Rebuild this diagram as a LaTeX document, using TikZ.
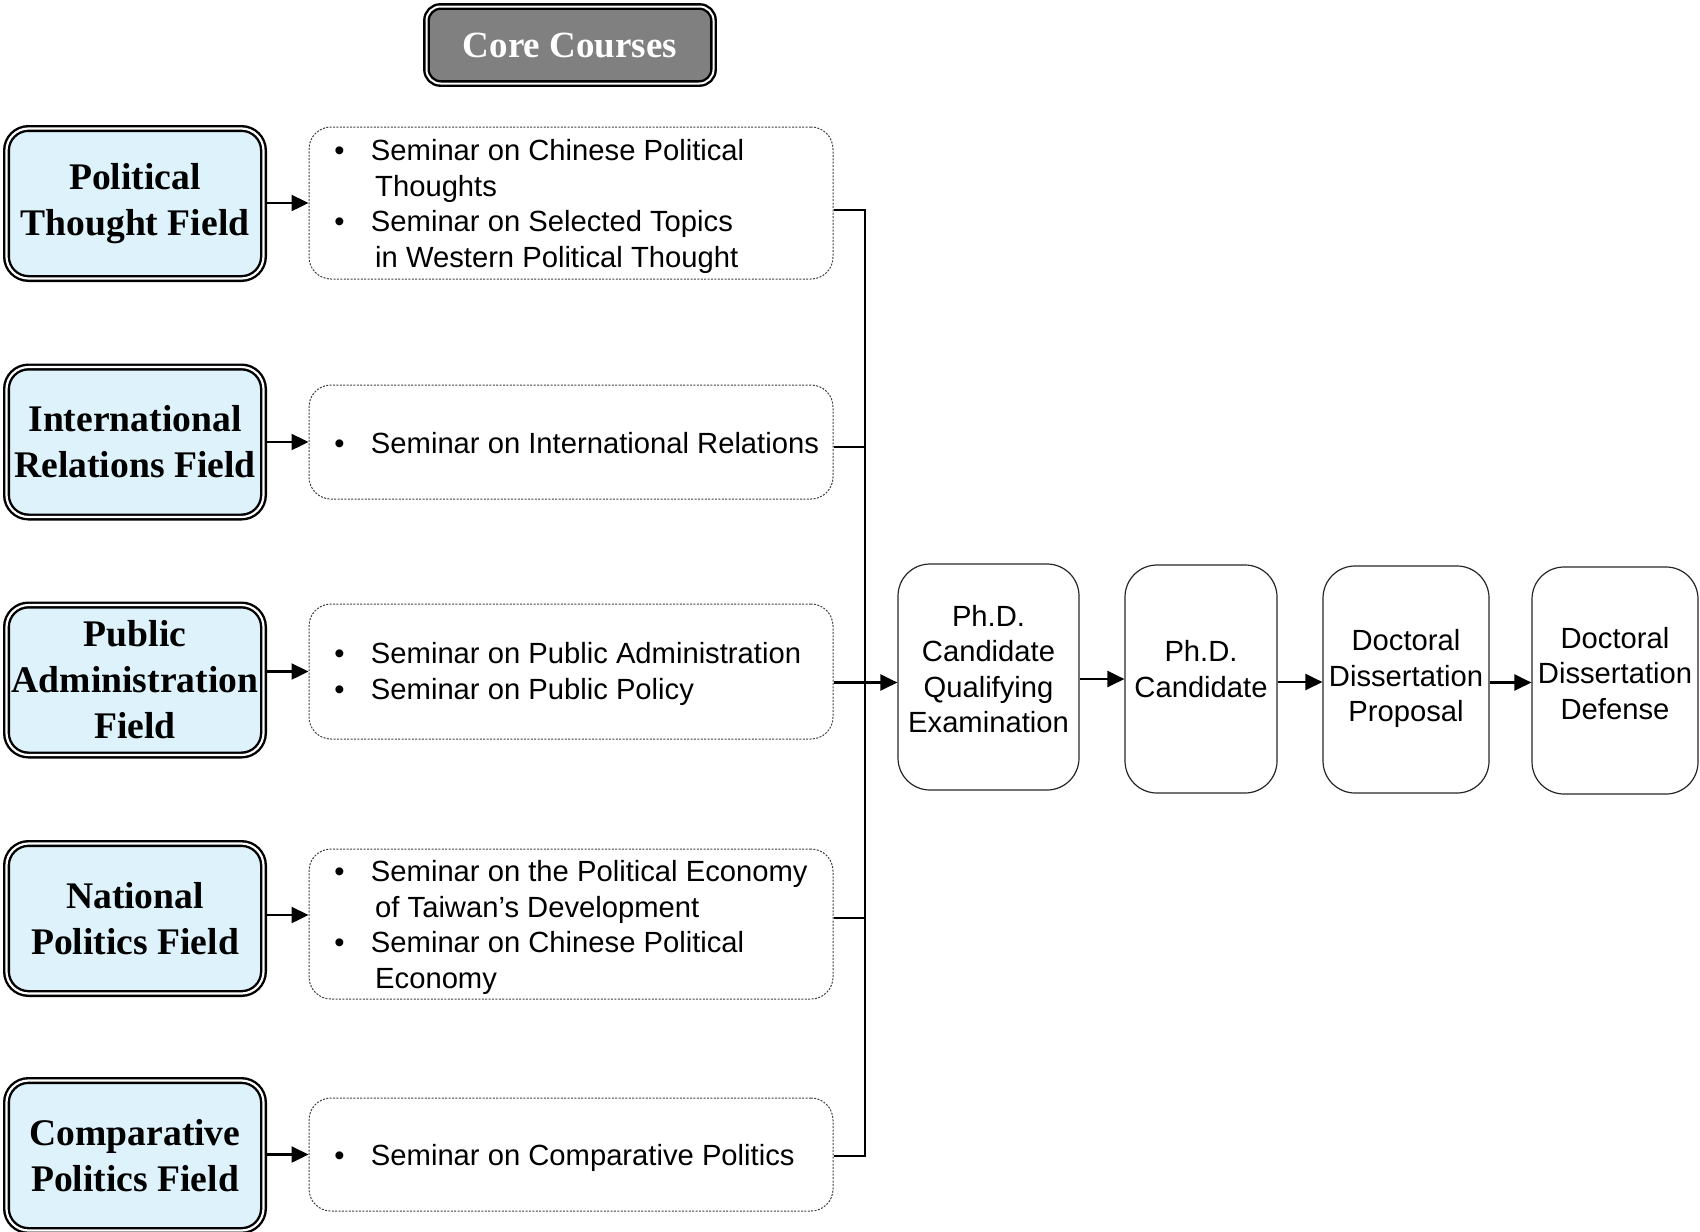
\documentclass[tikz,border=0pt]{standalone}
\usepackage{fontspec}
\setmainfont{Liberation Serif}
\newfontfamily\arialf{Liberation Sans}
\usetikzlibrary{arrows.meta,calc}
\definecolor{fieldblue}{RGB}{222,242,252}
\definecolor{coregray}{RGB}{128,128,128}
\tikzset{
  fieldbox/.style={draw=black, double=white, line width=1.2pt, double distance=1.1pt,
    rounded corners=11pt, fill=fieldblue, minimum width=128.5pt, minimum height=75pt,
    inner sep=0pt, align=center, font=\fontsize{18.8}{23}\selectfont\bfseries},
  corebox/.style={draw=black, double=white, line width=1.2pt, double distance=1pt,
    rounded corners=7pt, fill=coregray, minimum width=143.5pt, minimum height=38.5pt,
    inner sep=0pt, text=white, font=\fontsize{18.5}{22}\selectfont\bfseries},
  sembox/.style={draw=black!75, line width=0.5pt, dash pattern=on 1pt off 0.7pt,
    rounded corners=11pt, minimum width=262pt, inner sep=0pt},
  semtext/.style={inner sep=0pt, align=left, font=\arialf\fontsize{14.6}{17.7}\selectfont},
  procbox/.style={draw=black!85, line width=0.6pt, rounded corners=16pt, inner sep=0pt},
  proctext/.style={inner sep=0pt, align=center, font=\arialf\fontsize{14.6}{17.7}\selectfont},
  conn/.style={draw=black, line width=0.8pt},
  arr/.style={draw=black, line width=1.2pt, -{Triangle[length=8.5pt,width=8pt]}}
}
\newcommand{\bul}{\makebox[18.3pt][l]{\textbullet}}
\newcommand{\cont}{\hspace{20.4pt}}
\begin{document}
\begin{tikzpicture}[x=0.5pt,y=-0.5pt]
\useasboundingbox (0,0) rectangle (1700,1231);

\node[corebox] (core) at (570,45) {Core Courses};

% field boxes
\node[fieldbox] (f1) at (135,203.5) {Political\\Thought Field};
\node[fieldbox] (f2) at (135,442) {International\\Relations Field};
\node[fieldbox] (f3) at (135,680) {Public\\Administration\\Field};
\node[fieldbox] (f4) at (135,918.5) {National\\Politics Field};
\node[fieldbox] (f5) at (135,1155.5) {Comparative\\Politics Field};

% seminar boxes
\node[sembox, minimum height=76pt] (s1) at (571,203) {};
\node[sembox, minimum height=57pt] (s2) at (571,442) {};
\node[sembox, minimum height=67.5pt] (s3) at (571,671.5) {};
\node[sembox, minimum height=75pt] (s4) at (571,924) {};
\node[sembox, minimum height=56.5pt] (s5) at (571,1154.5) {};

\node[semtext, anchor=west] (t1) at (334,206.5) {\bul Seminar on Chinese Political\\\cont Thoughts\\\bul Seminar on Selected Topics\\\cont in Western Political Thought};
\node[semtext, anchor=west] (t2) at (334,443) {\bul Seminar on International Relations};
\node[semtext, anchor=west] (t3) at (334,674) {\bul Seminar on Public Administration\\\bul Seminar on Public Policy};
\node[semtext, anchor=west] (t4) at (334,927.5) {\bul Seminar on the Political Economy\\\cont of Taiwan’s Development\\\bul Seminar on Chinese Political\\\cont Economy};
\node[semtext, anchor=west] (t5) at (334,1158) {\bul Seminar on Comparative Politics};

% process boxes
\node[procbox, minimum width=90.5pt, minimum height=113pt] (b1) at (988.5,677) {};
\node[procbox, minimum width=76pt, minimum height=114pt] (b2) at (1201,679) {};
\node[procbox, minimum width=83pt, minimum height=113.5pt] (b3) at (1406,679.5) {};
\node[procbox, minimum width=83pt, minimum height=113.5pt] (b4) at (1615,680.5) {};
\node[proctext] (p1) at ($(b1)+(0,-8)$) {Ph.D.\\Candidate\\Qualifying\\Examination};
\node[proctext] (p2) at ($(b2)+(0,-10)$) {Ph.D.\\Candidate};
\node[proctext] (p3) at ($(b3)+(0,-1)$) {Doctoral\\Dissertation\\Proposal};
\node[proctext] (p4) at ($(b4)+(0,-7)$) {Doctoral\\Dissertation\\Defense};

% field -> seminar arrows
\coordinate (a4) at ($(f4.east)+(0,-3.5)$);
\draw[arr] (f1.east |- s1.west) -- (s1.west);
\draw[arr] (f2.east |- s2.west) -- (s2.west);
\draw[arr] (f3.east |- s3.west) -- (s3.west);
\draw[arr] (a4) -- (a4 -| s4.west);
\draw[arr] (f5.east |- s5.west) -- (s5.west);

% bus
\coordinate (j1) at ($(s1.east)+(0,7)$);
\coordinate (j2) at ($(s2.east)+(0,5)$);
\coordinate (j3) at ($(s3.east)+(0,11)$);
\coordinate (j4) at ($(s4.east)+(0,-6)$);
\coordinate (j5) at ($(s5.east)+(0,1.5)$);
\coordinate (bbot) at (865,1156);
\draw[conn] (j1) -| (bbot) -- (j5);
\draw[conn] (j2) -- (j2 -| bbot);
\draw[conn] (j4) -- (j4 -| bbot);
\draw[arr] (j3) -- (j3 -| b1.west);

% process arrows
\draw[arr] ([yshift=-1pt]b1.east) -- ([yshift=-1pt]b1.east -| b2.west);
\draw[arr] ([yshift=-1.5pt]b2.east) -- ([yshift=-1.5pt]b2.east -| b3.west);
\draw[arr] ([yshift=-1.5pt]b3.east) -- ([yshift=-1.5pt]b3.east -| b4.west);
\end{tikzpicture}
\end{document}
